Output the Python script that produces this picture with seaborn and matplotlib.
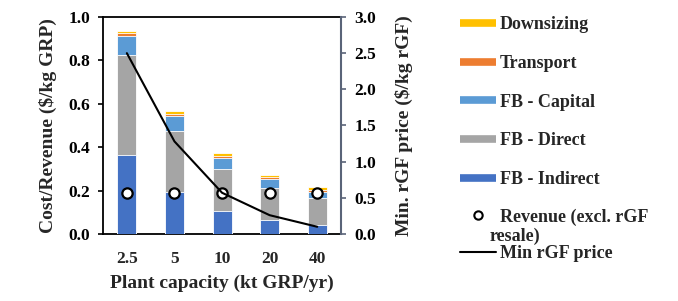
import matplotlib
matplotlib.use("Agg")
import matplotlib.pyplot as plt
import seaborn as sns
import pandas as pd
from matplotlib.lines import Line2D

# data
capacity = ["2.5", "5", "10", "20", "40"]
fb_indirect = [0.364, 0.195, 0.107, 0.066, 0.041]
fb_direct = [0.461, 0.280, 0.193, 0.146, 0.125]
fb_capital = [0.089, 0.069, 0.052, 0.040, 0.029]
transport = [0.011, 0.010, 0.009, 0.009, 0.009]
downsizing = [0.012, 0.013, 0.012, 0.012, 0.014]
revenue = [0.19, 0.19, 0.19, 0.19, 0.19]
min_rgf_price = [2.50, 1.28, 0.57, 0.26, 0.10]

components = ["FB - Indirect", "FB - Direct", "FB - Capital", "Transport", "Downsizing"]
colors = {
    "FB - Indirect": "#4472C4",
    "FB - Direct": "#A5A5A5",
    "FB - Capital": "#5B9BD5",
    "Transport": "#ED7D31",
    "Downsizing": "#FFC000",
}
values = {
    "FB - Indirect": fb_indirect,
    "FB - Direct": fb_direct,
    "FB - Capital": fb_capital,
    "Transport": transport,
    "Downsizing": downsizing,
}

sns.set_theme(style="white")
plt.rcParams["font.family"] = ["Liberation Serif", "DejaVu Serif"]
plt.rcParams["font.weight"] = "bold"
plt.rcParams["axes.labelweight"] = "bold"

TICK = 12.5
LABEL = 14
LEG = 13

fig = plt.figure(figsize=(6.78, 3.01), dpi=100)
ax = fig.add_axes([0.152, 0.2226, 0.351, 0.721])

# stacked bars: draw cumulative totals, lower segments on top
df = pd.DataFrame(values, index=capacity)
bottom = pd.Series(0.0, index=capacity)
for i, comp in enumerate(components):
    sns.barplot(x=df.index, y=df[comp] + bottom, color=colors[comp], width=0.4,
                edgecolor="white", linewidth=0.6, ax=ax, zorder=10 - i,
                saturation=1)
    bottom = bottom + df[comp]

sns.scatterplot(x=capacity, y=revenue, ax=ax, marker="o", s=55, color="white",
                edgecolor="black", linewidth=1.6, zorder=20)

ax.set_ylim(0, 1.0)
ax.set_xlim(-0.5, 4.5)
yt = [0, 0.2, 0.4, 0.6, 0.8, 1.0]
ax.set_yticks(yt)
ax.set_yticklabels([f"{v:.1f}" for v in yt])
ax.tick_params(axis="y", left=True, direction="out", length=3.5, width=1.2,
               labelsize=TICK, colors="black", pad=6)
ax.tick_params(axis="x", bottom=False, labelsize=TICK, pad=6)
ax.set_xlabel("Plant capacity (kt GRP/yr)", fontsize=LABEL, fontweight="bold", labelpad=6)
ax.set_ylabel("Cost/Revenue ($/kg GRP)", fontsize=LABEL, fontweight="bold", labelpad=8)
for lab in ax.get_xticklabels() + ax.get_yticklabels():
    lab.set_fontweight("bold")
for side in ["left", "bottom", "top"]:
    ax.spines[side].set_color("black")
    ax.spines[side].set_linewidth(1.3)
ax.spines["right"].set_visible(False)
ax.grid(False)

ax2 = ax.twinx()
ax2.plot(range(len(capacity)), min_rgf_price, color="black", lw=1.5, zorder=30)
ax2.set_ylim(0, 3.0)
yt2 = [0, 0.5, 1.0, 1.5, 2.0, 2.5, 3.0]
ax2.set_yticks(yt2)
ax2.set_yticklabels([f"{v:.1f}" for v in yt2])
ax2.tick_params(axis="y", right=True, direction="out", length=3.5, width=1.2,
                labelsize=TICK, color="#5A6478", labelcolor="black", pad=6)
for lab in ax2.get_yticklabels():
    lab.set_fontweight("bold")
ax2.set_ylabel("Min. rGF price ($/kg rGF)", fontsize=LABEL, fontweight="bold", labelpad=14)
for side in ["left", "bottom", "top"]:
    ax2.spines[side].set_visible(False)
ax2.spines["right"].set_color("#5A6478")
ax2.spines["right"].set_linewidth(1.5)
ax2.grid(False)

# legend
bar_handles = [Line2D([], [], color=colors[c], lw=5.5, solid_capstyle="butt")
               for c in components[::-1]]
fig.legend(bar_handles, components[::-1], loc="upper left",
           bbox_to_anchor=(0.655, 1.0), frameon=False,
           handlelength=1.95, handletextpad=0.22, labelspacing=1.2,
           prop={"weight": "bold", "size": LEG})
other_handles = [
    Line2D([], [], ls="none", marker="o", markersize=6, markerfacecolor="white",
           markeredgecolor="black", markeredgewidth=1.5),
    Line2D([], [], color="black", lw=1.5),
]
fig.legend(other_handles, ["Revenue (excl. rGF", "Min rGF price"],
           loc="upper left", bbox_to_anchor=(0.655, 0.362), frameon=False,
           handlelength=1.95, handletextpad=0.22, labelspacing=1.1,
           prop={"weight": "bold", "size": LEG})
fig.text(0.7227, 0.214, "resale)", fontsize=LEG, fontweight="bold", va="center", ha="left")

fig.savefig("out.png", dpi=100)
